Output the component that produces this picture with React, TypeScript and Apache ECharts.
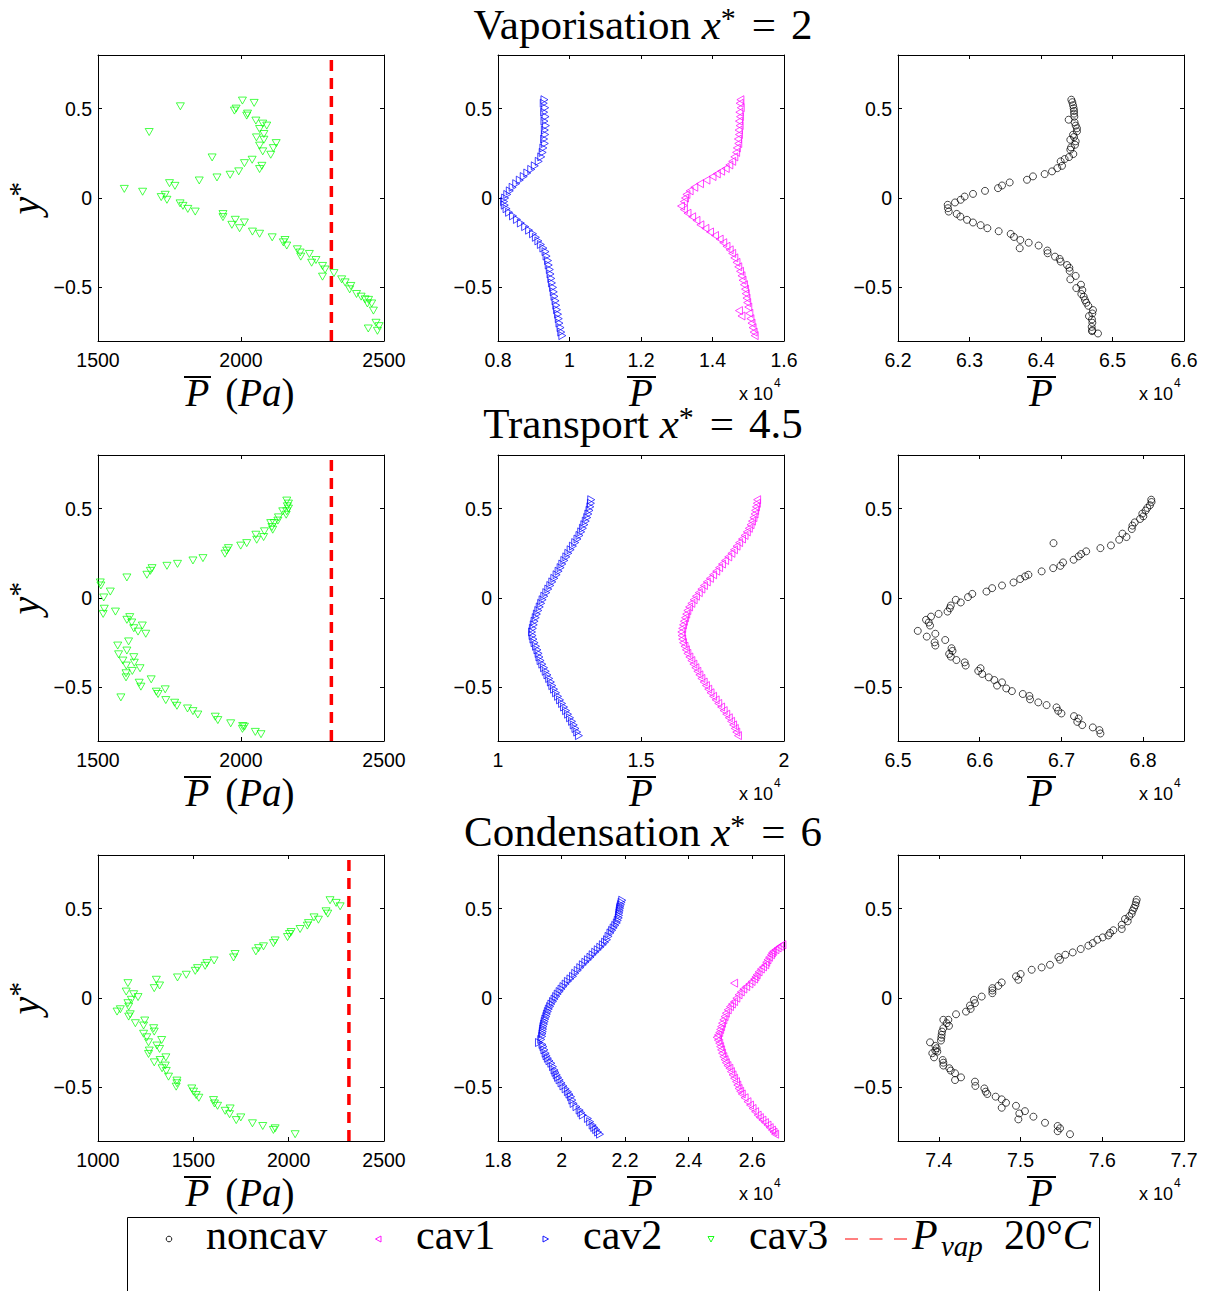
import React, { useEffect, useRef } from "react";
import * as echarts from "echarts";

// ---------------- DATA ----------------
// Column 1: cav3 mean pressure in Pa, y*
const cav3Vap: number[][] = [
  [1788, 0.513], [1679, 0.369], [2005, 0.545], [2046, 0.532], [1977, 0.489], [1983, 0.5], [2020, 0.461], [2023, 0.472],
  [2052, 0.433], [2076, 0.416], [2090, 0.405], [2065, 0.386], [2080, 0.358], [2054, 0.339], [2080, 0.326], [2123, 0.307],
  [2113, 0.279], [2065, 0.293], [2076, 0.261], [2104, 0.242], [2039, 0.214], [2012, 0.195], [2073, 0.18], [2065, 0.162],
  [1899, 0.227], [1992, 0.149], [1962, 0.13], [1916, 0.115], [1854, 0.098], [1750, 0.083], [1769, 0.068],
  [1592, 0.051], [1656, 0.035], [1721, 0.005], [1735, 0.018], [1741, -0.01], [1787, -0.03], [1797, -0.044], [1814, -0.061],
  [1840, -0.076], [1937, -0.09], [1937, -0.107], [1980, -0.122], [1968, -0.15], [2012, -0.137], [1995, -0.169], [2040, -0.188],
  [2065, -0.2], [2109, -0.22], [2154, -0.235], [2148, -0.248], [2160, -0.266], [2197, -0.287], [2207, -0.305], [2209, -0.328],
  [2239, -0.313], [2247, -0.362], [2262, -0.347], [2285, -0.38], [2294, -0.4], [2285, -0.44], [2325, -0.42], [2352, -0.455],
  [2364, -0.472], [2384, -0.492], [2380, -0.511], [2404, -0.537], [2420, -0.552], [2434, -0.567], [2442, -0.59], [2446, -0.57],
  [2457, -0.59], [2463, -0.63], [2445, -0.73], [2472, -0.698], [2483, -0.717], [2477, -0.743],
];
const cav3Trans: number[][] = [
  [2160, 0.545], [2166, 0.528], [2162, 0.513], [2166, 0.5], [2160, 0.485], [2158, 0.466], [2146, 0.485], [2131, 0.451],
  [2129, 0.433], [2116, 0.419], [2104, 0.419], [2108, 0.397], [2111, 0.382], [2082, 0.373], [2079, 0.341], [2055, 0.326],
  [2052, 0.354], [2020, 0.307], [1999, 0.293], [1956, 0.279], [1950, 0.265], [1944, 0.248], [1867, 0.223], [1832, 0.21],
  [1778, 0.191], [1741, 0.18], [1689, 0.167], [1683, 0.152], [1671, 0.13], [1601, 0.115], [1508, 0.087], [1510, 0.07],
  [1543, 0.036], [1520, 0.003], [1522, -0.06], [1518, -0.089], [1561, -0.076], [1601, -0.122], [1611, -0.107], [1618, -0.137],
  [1625, -0.169], [1655, -0.154], [1667, -0.2], [1640, -0.188], [1569, -0.266], [1572, -0.315], [1607, -0.243], [1601, -0.294],
  [1587, -0.35], [1599, -0.378], [1625, -0.331], [1627, -0.362], [1620, -0.408], [1598, -0.421], [1598, -0.444], [1647, -0.393],
  [1644, -0.474], [1650, -0.496], [1686, -0.455], [1580, -0.556], [1704, -0.524], [1710, -0.537], [1735, -0.511], [1737, -0.571],
  [1768, -0.586], [1776, -0.603], [1813, -0.618], [1832, -0.633], [1849, -0.652], [1910, -0.664], [1919, -0.683], [1964, -0.701],
  [2006, -0.716], [2005, -0.732], [2012, -0.72], [2050, -0.749], [2070, -0.762],
];
const cav3Cond: number[][] = [
  [2217, 0.547], [2249, 0.532], [2270, 0.513], [2196, 0.485], [2205, 0.472], [2156, 0.438], [2133, 0.451], [2104, 0.419],
  [2098, 0.405], [2060, 0.386], [2013, 0.369], [2004, 0.358], [1994, 0.341], [1929, 0.322], [1920, 0.307], [1868, 0.289],
  [1842, 0.279], [1828, 0.261], [1719, 0.246], [1711, 0.227], [1609, 0.21], [1571, 0.195], [1562, 0.18], [1522, 0.167],
  [1510, 0.152], [1463, 0.13], [1417, 0.115], [1306, 0.102], [1323, 0.07], [1295, 0.055], [1157, 0.083], [1148, 0.036],
  [1187, 0.021], [1210, 0.005], [1175, -0.01], [1157, -0.029], [1161, -0.048], [1117, -0.063], [1100, -0.076], [1169, -0.091],
  [1161, -0.104], [1196, -0.141], [1245, -0.126], [1239, -0.154], [1292, -0.169], [1295, -0.188], [1239, -0.2], [1256, -0.22],
  [1265, -0.248], [1334, -0.235], [1309, -0.266], [1323, -0.285], [1269, -0.294], [1265, -0.313], [1295, -0.36], [1326, -0.347],
  [1356, -0.332], [1353, -0.378], [1336, -0.393], [1358, -0.408], [1370, -0.44], [1414, -0.462], [1414, -0.477], [1410, -0.496],
  [1492, -0.506], [1501, -0.524], [1515, -0.543], [1529, -0.558], [1606, -0.571], [1611, -0.59], [1627, -0.603], [1667, -0.631],
  [1693, -0.618], [1690, -0.65], [1725, -0.683], [1749, -0.668], [1810, -0.701], [1864, -0.716], [1920, -0.738], [1929, -0.729],
  [2034, -0.762],
];
// Vapour pressure at 20 degC (Pa), as drawn
const pVap = 2316;

// Columns 2 and 3: pressure in units of 10^4 Pa, y*
const cav2Vap: number[][] = [
  [0.93, 0.55], [0.928, 0.53], [0.932, 0.505], [0.929, 0.48], [0.933, 0.455], [0.93, 0.43], [0.934, 0.405], [0.931, 0.38],
  [0.932, 0.355], [0.929, 0.33], [0.931, 0.305], [0.927, 0.28], [0.925, 0.255], [0.921, 0.23], [0.914, 0.205], [0.903, 0.18],
  [0.893, 0.16], [0.882, 0.14], [0.872, 0.12], [0.861, 0.1], [0.851, 0.08], [0.841, 0.06], [0.833, 0.04], [0.826, 0.02],
  [0.82, 0.0], [0.817, -0.02], [0.819, -0.04], [0.824, -0.06], [0.831, -0.08], [0.842, -0.1], [0.853, -0.12], [0.864, -0.14],
  [0.876, -0.16], [0.887, -0.18], [0.898, -0.2], [0.906, -0.22], [0.913, -0.24], [0.92, -0.26], [0.927, -0.28], [0.933, -0.3],
  [0.936, -0.325], [0.94, -0.35], [0.942, -0.375], [0.945, -0.4], [0.947, -0.425], [0.949, -0.45], [0.951, -0.475], [0.954, -0.5],
  [0.956, -0.525], [0.958, -0.55], [0.961, -0.575], [0.963, -0.6], [0.965, -0.625], [0.968, -0.65], [0.97, -0.675], [0.972, -0.7],
  [0.975, -0.725], [0.977, -0.75], [0.98, -0.77],
];
const cav1Vap: number[][] = [
  [1.478, 0.55], [1.476, 0.53], [1.479, 0.505], [1.475, 0.48], [1.477, 0.455], [1.474, 0.43], [1.476, 0.405], [1.473, 0.38],
  [1.474, 0.355], [1.471, 0.33], [1.472, 0.305], [1.468, 0.28], [1.466, 0.255], [1.461, 0.23], [1.455, 0.205], [1.447, 0.185],
  [1.437, 0.165], [1.424, 0.15], [1.412, 0.135], [1.4, 0.12], [1.383, 0.1], [1.365, 0.08], [1.349, 0.06], [1.336, 0.04],
  [1.327, 0.02], [1.323, 0.0], [1.32, -0.02], [1.312, -0.045], [1.32, -0.065], [1.33, -0.085], [1.343, -0.105], [1.355, -0.125],
  [1.366, -0.15], [1.38, -0.17], [1.393, -0.19], [1.407, -0.21], [1.42, -0.23], [1.43, -0.25], [1.439, -0.27], [1.448, -0.29],
  [1.455, -0.31], [1.461, -0.335], [1.467, -0.36], [1.472, -0.385], [1.477, -0.41], [1.481, -0.435], [1.484, -0.46], [1.488, -0.485],
  [1.491, -0.51], [1.493, -0.535], [1.495, -0.56], [1.497, -0.585], [1.5, -0.61], [1.474, -0.63], [1.481, -0.66], [1.503, -0.645],
  [1.506, -0.675], [1.509, -0.7], [1.512, -0.725], [1.515, -0.75], [1.518, -0.77],
];
const noncavVap: number[][] = [
  [6.4424, 0.55], [6.4438, 0.536], [6.4448, 0.519], [6.4457, 0.502], [6.4462, 0.487], [6.4462, 0.472], [6.4387, 0.438],
  [6.4466, 0.455], [6.447, 0.423], [6.4485, 0.405], [6.4503, 0.39], [6.4503, 0.373], [6.4448, 0.354], [6.4462, 0.341],
  [6.441, 0.326], [6.4485, 0.317], [6.4476, 0.298], [6.442, 0.283], [6.441, 0.27], [6.4452, 0.246], [6.4392, 0.229],
  [6.4331, 0.218], [6.4275, 0.205], [6.4294, 0.18], [6.4228, 0.167], [6.4154, 0.149], [6.4051, 0.134], [6.3888, 0.121],
  [6.3804, 0.102], [6.3562, 0.087], [6.3455, 0.07], [6.3399, 0.055], [6.3217, 0.04], [6.3049, 0.023], [6.2932, 0.008],
  [6.2876, -0.01], [6.2797, -0.025], [6.2695, -0.038], [6.2699, -0.057], [6.2709, -0.076], [6.2821, -0.089], [6.2872, -0.104],
  [6.2965, -0.122], [6.3049, -0.137], [6.3156, -0.152], [6.325, -0.169], [6.3408, -0.186], [6.3576, -0.201], [6.3622, -0.218],
  [6.3711, -0.235], [6.3828, -0.25], [6.3702, -0.281], [6.3967, -0.266], [6.4089, -0.294], [6.4093, -0.309], [6.4196, -0.328],
  [6.4261, -0.341], [6.4275, -0.356], [6.4364, -0.375], [6.4396, -0.39], [6.4401, -0.408], [6.4485, -0.436], [6.441, -0.455],
  [6.4559, -0.485], [6.4494, -0.504], [6.4578, -0.515], [6.4564, -0.537], [6.4597, -0.552], [6.4615, -0.571], [6.4634, -0.586],
  [6.4662, -0.603], [6.4727, -0.627], [6.4718, -0.646], [6.4671, -0.661], [6.4713, -0.679], [6.4718, -0.698], [6.4709, -0.721],
  [6.4718, -0.74], [6.4797, -0.758], [6.4713, -0.745],
];
const cav2Trans: number[][] = [
  [1.326, 0.55], [1.325, 0.53], [1.323, 0.51], [1.32, 0.49], [1.316, 0.47], [1.312, 0.45], [1.307, 0.43], [1.302, 0.41],
  [1.297, 0.39], [1.291, 0.37], [1.285, 0.35], [1.278, 0.33], [1.27, 0.31], [1.262, 0.29], [1.254, 0.27], [1.246, 0.25],
  [1.239, 0.23], [1.232, 0.21], [1.225, 0.19], [1.219, 0.17], [1.212, 0.15], [1.205, 0.13], [1.197, 0.11], [1.19, 0.09],
  [1.183, 0.07], [1.176, 0.05], [1.169, 0.03], [1.162, 0.01], [1.156, -0.01], [1.151, -0.03], [1.146, -0.05], [1.141, -0.07],
  [1.136, -0.09], [1.132, -0.11], [1.128, -0.13], [1.125, -0.15], [1.122, -0.17], [1.119, -0.19], [1.121, -0.21], [1.124, -0.23],
  [1.128, -0.25], [1.133, -0.27], [1.138, -0.29], [1.142, -0.31], [1.145, -0.33], [1.149, -0.35], [1.155, -0.37], [1.161, -0.39],
  [1.167, -0.41], [1.173, -0.43], [1.179, -0.45], [1.185, -0.47], [1.19, -0.49], [1.196, -0.51], [1.203, -0.53], [1.21, -0.55],
  [1.217, -0.57], [1.224, -0.59], [1.231, -0.61], [1.238, -0.63], [1.245, -0.65], [1.252, -0.67], [1.259, -0.69], [1.265, -0.71],
  [1.271, -0.73], [1.277, -0.75], [1.283, -0.77],
];
const cav1Trans: number[][] = [
  [1.906, 0.55], [1.905, 0.53], [1.902, 0.51], [1.899, 0.49], [1.897, 0.47], [1.893, 0.45], [1.888, 0.43], [1.883, 0.41],
  [1.877, 0.39], [1.87, 0.37], [1.862, 0.35], [1.853, 0.33], [1.843, 0.31], [1.834, 0.29], [1.825, 0.27], [1.816, 0.25],
  [1.805, 0.23], [1.794, 0.21], [1.783, 0.19], [1.773, 0.17], [1.763, 0.15], [1.752, 0.13], [1.741, 0.11], [1.73, 0.09],
  [1.72, 0.07], [1.711, 0.05], [1.702, 0.03], [1.692, 0.01], [1.684, -0.01], [1.676, -0.03], [1.668, -0.05], [1.662, -0.07],
  [1.658, -0.09], [1.654, -0.11], [1.65, -0.13], [1.647, -0.15], [1.644, -0.17], [1.641, -0.19], [1.642, -0.21], [1.644, -0.23],
  [1.647, -0.25], [1.652, -0.27], [1.657, -0.29], [1.662, -0.31], [1.669, -0.33], [1.676, -0.35], [1.683, -0.37], [1.69, -0.39],
  [1.697, -0.41], [1.704, -0.43], [1.711, -0.45], [1.719, -0.47], [1.727, -0.49], [1.735, -0.51], [1.743, -0.53], [1.752, -0.55],
  [1.761, -0.57], [1.77, -0.59], [1.78, -0.61], [1.789, -0.63], [1.798, -0.65], [1.807, -0.67], [1.815, -0.69], [1.822, -0.71],
  [1.828, -0.73], [1.833, -0.75], [1.839, -0.77],
];
const noncavTrans: number[][] = [
  [6.8099, 0.55], [6.8103, 0.537], [6.8083, 0.519], [6.8051, 0.504], [6.803, 0.489], [6.799, 0.472], [6.8002, 0.457],
  [6.7962, 0.442], [6.7897, 0.423], [6.7869, 0.405], [6.7861, 0.386], [6.7747, 0.36], [6.7796, 0.341], [6.7707, 0.326],
  [6.7606, 0.294], [6.7477, 0.279], [6.6903, 0.307], [6.7303, 0.261], [6.7242, 0.246], [6.721, 0.233], [6.7149, 0.214],
  [6.702, 0.199], [6.6988, 0.18], [6.6899, 0.167], [6.6758, 0.149], [6.6596, 0.13], [6.6556, 0.121], [6.6495, 0.106],
  [6.6414, 0.087], [6.6273, 0.07], [6.6152, 0.055], [6.6083, 0.036], [6.5909, 0.023], [6.5857, 0.005], [6.5707, -0.01],
  [6.5768, -0.025], [6.5646, -0.042], [6.5634, -0.057], [6.5606, -0.076], [6.5497, -0.089], [6.5404, -0.104], [6.5343, -0.122],
  [6.5376, -0.137], [6.5392, -0.154], [6.5242, -0.184], [6.5457, -0.2], [6.5352, -0.216], [6.5578, -0.235], [6.5448, -0.248],
  [6.5457, -0.266], [6.5655, -0.281], [6.5667, -0.296], [6.5626, -0.313], [6.5646, -0.328], [6.5715, -0.347], [6.5816, -0.36],
  [6.5828, -0.378], [6.601, -0.393], [6.5982, -0.408], [6.603, -0.425], [6.6111, -0.444], [6.6179, -0.459], [6.6273, -0.472],
  [6.6212, -0.49], [6.6325, -0.506], [6.6394, -0.521], [6.6527, -0.537], [6.6608, -0.548], [6.6616, -0.567], [6.6717, -0.584],
  [6.6818, -0.599], [6.694, -0.612], [6.696, -0.631], [6.7, -0.646], [6.7154, -0.661], [6.721, -0.674], [6.7194, -0.693],
  [6.7255, -0.711], [6.7384, -0.724], [6.7465, -0.739], [6.7477, -0.758],
];
const cav2Cond: number[][] = [
  [2.191, 0.547], [2.189, 0.535], [2.187, 0.522], [2.185, 0.51], [2.184, 0.5], [2.183, 0.488], [2.182, 0.476], [2.181, 0.462],
  [2.18, 0.448], [2.177, 0.434], [2.174, 0.42], [2.169, 0.406], [2.164, 0.392], [2.159, 0.378], [2.154, 0.364], [2.148, 0.345],
  [2.143, 0.326], [2.137, 0.312], [2.13, 0.298], [2.122, 0.284], [2.114, 0.27], [2.106, 0.256], [2.098, 0.242], [2.091, 0.228],
  [2.083, 0.214], [2.075, 0.2], [2.067, 0.186], [2.059, 0.17], [2.051, 0.154], [2.043, 0.138], [2.036, 0.121], [2.028, 0.107],
  [2.02, 0.093], [2.013, 0.078], [2.006, 0.064], [2.0, 0.05], [1.994, 0.036], [1.988, 0.022], [1.983, 0.008], [1.978, -0.006],
  [1.973, -0.02], [1.968, -0.034], [1.964, -0.048], [1.96, -0.062], [1.957, -0.076], [1.954, -0.09], [1.952, -0.104],
  [1.949, -0.118], [1.947, -0.132], [1.945, -0.146], [1.943, -0.16], [1.942, -0.174], [1.941, -0.188], [1.94, -0.2],
  [1.939, -0.215], [1.936, -0.232], [1.929, -0.249], [1.94, -0.26], [1.943, -0.272], [1.946, -0.29], [1.95, -0.309],
  [1.953, -0.323], [1.957, -0.337], [1.962, -0.351], [1.968, -0.365], [1.973, -0.384], [1.978, -0.403], [1.981, -0.416],
  [1.985, -0.43], [1.989, -0.444], [1.994, -0.458], [2.0, -0.475], [2.006, -0.492], [2.013, -0.508], [2.02, -0.524],
  [2.025, -0.538], [2.03, -0.552], [2.034, -0.571], [2.038, -0.59], [2.047, -0.608], [2.057, -0.627], [2.062, -0.641],
  [2.067, -0.655], [2.083, -0.674], [2.09, -0.692], [2.098, -0.711], [2.103, -0.724], [2.109, -0.736], [2.115, -0.75],
  [2.121, -0.762],
];
const cav1Cond: number[][] = [
  [2.695, 0.298], [2.687, 0.289], [2.68, 0.28], [2.673, 0.27], [2.666, 0.261], [2.662, 0.252], [2.659, 0.242], [2.653, 0.228],
  [2.648, 0.214], [2.644, 0.2], [2.641, 0.186], [2.634, 0.174], [2.627, 0.162], [2.62, 0.146], [2.614, 0.13], [2.61, 0.118],
  [2.606, 0.106], [2.598, 0.092], [2.591, 0.079], [2.543, 0.083], [2.581, 0.064], [2.572, 0.05], [2.564, 0.034], [2.557, 0.018],
  [2.55, -0.001], [2.543, -0.02], [2.536, -0.034], [2.53, -0.048], [2.523, -0.066], [2.517, -0.085], [2.513, -0.104],
  [2.509, -0.122], [2.505, -0.141], [2.502, -0.16], [2.499, -0.176], [2.496, -0.193], [2.492, -0.207], [2.488, -0.22],
  [2.492, -0.236], [2.496, -0.253], [2.499, -0.272], [2.502, -0.29], [2.505, -0.309], [2.509, -0.328], [2.513, -0.345],
  [2.517, -0.362], [2.522, -0.378], [2.528, -0.393], [2.533, -0.412], [2.538, -0.43], [2.543, -0.449], [2.549, -0.468],
  [2.553, -0.487], [2.557, -0.506], [2.562, -0.522], [2.567, -0.537], [2.576, -0.558], [2.585, -0.58], [2.593, -0.599],
  [2.601, -0.618], [2.609, -0.636], [2.617, -0.655], [2.624, -0.669], [2.632, -0.683], [2.64, -0.697], [2.648, -0.711],
  [2.655, -0.725], [2.662, -0.739], [2.667, -0.75], [2.672, -0.762],
];
const noncavCond: number[][] = [
  [7.6421, 0.55], [7.6413, 0.536], [7.6405, 0.519], [7.6389, 0.504], [7.6372, 0.489], [7.636, 0.472], [7.6331, 0.457],
  [7.6278, 0.442], [7.6311, 0.429], [7.6238, 0.41], [7.6238, 0.386], [7.6136, 0.379], [7.6095, 0.364], [7.6074, 0.35],
  [7.6005, 0.339], [7.594, 0.326], [7.5883, 0.307], [7.583, 0.293], [7.5736, 0.274], [7.5638, 0.255], [7.5548, 0.242],
  [7.5483, 0.214], [7.5463, 0.229], [7.536, 0.186], [7.5258, 0.171], [7.5136, 0.158], [7.5001, 0.134], [7.4944, 0.121],
  [7.4973, 0.102], [7.4769, 0.087], [7.4728, 0.068], [7.4655, 0.055], [7.4655, 0.042], [7.4655, 0.027], [7.4524, 0.008],
  [7.443, -0.01], [7.4442, -0.029], [7.4381, -0.042], [7.4389, -0.061], [7.4332, -0.076], [7.421, -0.091], [7.4116, -0.122],
  [7.4055, -0.122], [7.4096, -0.141], [7.4124, -0.156], [7.4055, -0.169], [7.4039, -0.188], [7.4034, -0.206], [7.403, -0.222],
  [7.4026, -0.238], [7.3892, -0.248], [7.3957, -0.268], [7.3973, -0.281], [7.3957, -0.294], [7.392, -0.309], [7.3981, -0.3],
  [7.3941, -0.332], [7.4047, -0.347], [7.4055, -0.362], [7.4055, -0.378], [7.4128, -0.393], [7.4145, -0.406], [7.4198, -0.421],
  [7.4271, -0.444], [7.4198, -0.459], [7.4442, -0.468], [7.4447, -0.492], [7.4557, -0.506], [7.4573, -0.524], [7.4593, -0.537],
  [7.4695, -0.552], [7.4769, -0.567], [7.4822, -0.586], [7.4769, -0.614], [7.4944, -0.603], [7.5054, -0.633], [7.4985, -0.646],
  [7.4973, -0.679], [7.5157, -0.664], [7.5299, -0.698], [7.5454, -0.716], [7.5483, -0.729], [7.5454, -0.745], [7.5605, -0.762],
];

// Axis ranges and tick values
const yRange = [-0.8, 0.8];
const yTicks = [-0.5, 0, 0.5];
const rowTitles = ["Vaporisation ", "Transport ", "Condensation "];
const rowTitleValues = ["2", "4.5", "6"];
const xRanges = [
  [[1500, 2500], [0.8, 1.6], [6.2, 6.6]],
  [[1500, 2500], [1, 2], [6.5, 6.85]],
  [[1000, 2500], [1.8, 2.7], [7.35, 7.7]],
];
const xTicks = [
  [[1500, 2000, 2500], [0.8, 1, 1.2, 1.4, 1.6], [6.2, 6.3, 6.4, 6.5, 6.6]],
  [[1500, 2000, 2500], [1, 1.5, 2], [6.5, 6.6, 6.7, 6.8]],
  [[1000, 1500, 2000, 2500], [1.8, 2, 2.2, 2.4, 2.6], [7.4, 7.5, 7.6, 7.7]],
];
const legendNames = ["noncav", "cav1", "cav2", "cav3"];

// ---------------- LAYOUT / STYLE ----------------
const COL_LEFT = [98, 498, 898];
const ROW_TOP = [55, 455, 855];
const BOX = 286;
const SERIF = "'Liberation Serif', 'Times New Roman', serif";
const SANS = "'Liberation Sans', Arial, Helvetica, sans-serif";
const GREEN = "#00ff00";
const BLUE = "#0000ff";
const MAGENTA = "#ff00ff";
const RED = "#ff0000";

const fmt = (v: number) => {
  const s = String(parseFloat(Number(v).toFixed(3)));
  return v < 0 ? "\u2212" + s.replace("-", "") : s;
};

function scatter(g: number, data: number[][], kind: string) {
  const base: any = {
    type: "scatter",
    xAxisIndex: 2 * g,
    yAxisIndex: 2 * g,
    data,
    silent: true,
    z: 3,
  };
  if (kind === "noncav") {
    return { ...base, name: "noncav", symbol: "circle", symbolSize: 7,
      itemStyle: { color: "rgba(0,0,0,0)", borderColor: "#000", borderWidth: 0.9 } };
  }
  const color = kind === "cav1" ? MAGENTA : kind === "cav2" ? BLUE : GREEN;
  const rot = kind === "cav1" ? 90 : kind === "cav2" ? -90 : 180;
  return { ...base, name: kind, symbol: "triangle", symbolSize: [8, 7], symbolRotate: rot,
    itemStyle: { color: "rgba(0,0,0,0)", borderColor: color, borderWidth: 0.9 } };
}

function buildOption() {
  const grid: any[] = [];
  const xAxis: any[] = [];
  const yAxis: any[] = [];
  const series: any[] = [];
  const graphic: any[] = [];
  const rowData = [
    [cav3Vap, [cav1Vap, cav2Vap], noncavVap],
    [cav3Trans, [cav1Trans, cav2Trans], noncavTrans],
    [cav3Cond, [cav1Cond, cav2Cond], noncavCond],
  ];
  const axisLine = { show: true, onZero: false, lineStyle: { color: "#000", width: 1 } };
  for (let r = 0; r < 3; r++) {
    for (let c = 0; c < 3; c++) {
      const g = r * 3 + c;
      grid.push({ left: COL_LEFT[c], top: ROW_TOP[r], width: BOX, height: BOX, containLabel: false });
      const [mn, mx] = xRanges[r][c];
      const ticks = xTicks[r][c];
      const tick = { show: true, inside: true, length: 4, customValues: ticks, lineStyle: { color: "#000", width: 1 } };
      xAxis.push({
        type: "value", gridIndex: g, position: "bottom", min: mn, max: mx,
        axisLine, axisTick: tick, splitLine: { show: false },
        axisLabel: { show: true, customValues: ticks, formatter: (v: number) => fmt(v), color: "#000",
          fontFamily: SANS, fontSize: 19.5, margin: 9 },
      });
      xAxis.push({
        type: "value", gridIndex: g, position: "top", min: mn, max: mx,
        axisLine, axisTick: tick, splitLine: { show: false }, axisLabel: { show: false },
      });
      const ytick = { show: true, inside: true, length: 4, customValues: yTicks, lineStyle: { color: "#000", width: 1 } };
      yAxis.push({
        type: "value", gridIndex: g, position: "left", min: yRange[0], max: yRange[1],
        axisLine, axisTick: ytick, splitLine: { show: false },
        axisLabel: { show: true, customValues: yTicks, formatter: (v: number) => fmt(v), color: "#000",
          fontFamily: SANS, fontSize: 19.5, margin: 6 },
      });
      yAxis.push({
        type: "value", gridIndex: g, position: "right", min: yRange[0], max: yRange[1],
        axisLine, axisTick: ytick, splitLine: { show: false }, axisLabel: { show: false },
      });
      const d: any = rowData[r][c];
      if (c === 0) {
        series.push(scatter(g, d, "cav3"));
        series.push({
          type: "line", name: "Pvap", xAxisIndex: 2 * g, yAxisIndex: 2 * g,
          data: [[pVap, yRange[0]], [pVap, yRange[1]]], symbol: "none", silent: true, z: 4,
          lineStyle: { color: RED, width: 3.5, type: [11, 7] },
        });
      } else if (c === 1) {
        series.push(scatter(g, d[0], "cav1"));
        series.push(scatter(g, d[1], "cav2"));
      } else {
        series.push(scatter(g, d, "noncav"));
      }

      // axis titles
      const cx = COL_LEFT[c] + BOX / 2;
      const bottom = ROW_TOP[r] + BOX;
      const base = bottom + 65; // baseline of x label
      if (c === 0) {
        graphic.push({
          type: "text", x: cx - 1, y: base - 14, silent: true,
          style: {
            text: "{i|P}{p|(}{i|Pa}{r|)}", align: "center", textAlign: "center",
            verticalAlign: "middle", textVerticalAlign: "middle",
            rich: {
              i: { fontFamily: SERIF, fontStyle: "italic", fontSize: 39, lineHeight: 40, fill: "#000" },
              r: { fontFamily: SERIF, fontSize: 39, lineHeight: 40, fill: "#000" },
              p: { fontFamily: SERIF, fontSize: 39, lineHeight: 40, fill: "#000", padding: [0, 0, 0, 16] },
            },
          },
        });
        graphic.push({ type: "line", silent: true, shape: { x1: 184, y1: bottom + 36, x2: 211, y2: bottom + 36 },
          style: { stroke: "#000", lineWidth: 2 } });
        // y label
        graphic.push({
          type: "text", x: 25, y: ROW_TOP[r] + BOX / 2, rotation: Math.PI / 2, silent: true,
          style: {
            text: "{i|y}{s|*}", x: 0, y: 0, align: "center", textAlign: "center",
            verticalAlign: "middle", textVerticalAlign: "middle",
            rich: {
              i: { fontFamily: SERIF, fontStyle: "italic", fontSize: 40, lineHeight: 44, fill: "#000" },
              s: { fontFamily: SERIF, fontSize: 30, lineHeight: 40, verticalAlign: "top", fill: "#000" },
            },
          },
        });
      } else {
        graphic.push({
          type: "text", x: cx, y: base - 14, silent: true,
          style: { text: "P", align: "center", textAlign: "center", verticalAlign: "middle",
            textVerticalAlign: "middle", fontFamily: SERIF, fontStyle: "italic", fontSize: 39, lineHeight: 40,
            fill: "#000" },
        });
        graphic.push({ type: "line", silent: true,
          shape: { x1: cx - 14, y1: bottom + 36, x2: cx + 15, y2: bottom + 36 },
          style: { stroke: "#000", lineWidth: 2 } });
        const right = COL_LEFT[c] + BOX;
        graphic.push({
          type: "text", x: right - 45, y: bottom + 53, silent: true,
          style: {
            text: "{a|x 10}{b|4}", align: "left", textAlign: "left", verticalAlign: "middle",
            textVerticalAlign: "middle",
            rich: {
              a: { fontFamily: SANS, fontSize: 18, lineHeight: 34, verticalAlign: "middle", fill: "#000" },
              b: { fontFamily: SANS, fontSize: 12, lineHeight: 12, verticalAlign: "top", fill: "#000",
                padding: [0, 0, 0, 1] },
            },
          },
        });
      }
    }
    // row title
    const titleY = [24, 423, 831][r];
    graphic.push({
      type: "text", x: 643, y: titleY, silent: true,
      style: {
        text: `{r|${rowTitles[r]}}{i|x}{s|*}{e|=}{r|${rowTitleValues[r]}}`, align: "center", textAlign: "center",
        verticalAlign: "middle", textVerticalAlign: "middle",
        rich: {
          r: { fontFamily: SERIF, fontSize: 43, lineHeight: 43, fill: "#000" },
          i: { fontFamily: SERIF, fontStyle: "italic", fontSize: 43, lineHeight: 43, fill: "#000" },
          s: { fontFamily: SERIF, fontSize: 30, lineHeight: 31, verticalAlign: "top", fill: "#000" },
          e: { fontFamily: SERIF, fontSize: 43, lineHeight: 43, fill: "#000", padding: [0, 15, 0, 16] },
        },
      },
    });
  }

  // legend box
  const LY = 1239;
  graphic.push({ type: "rect", silent: true, shape: { x: 127.5, y: 1217.5, width: 972, height: 120 },
    style: { fill: "#fff", stroke: "#000", lineWidth: 1 }, z: 10 });
  graphic.push({ type: "circle", silent: true, shape: { cx: 169, cy: LY, r: 2.8 },
    style: { fill: "none", stroke: "#000", lineWidth: 0.9 }, z: 11 });
  graphic.push({ type: "polygon", silent: true, shape: { points: [[381, LY - 3], [381, LY + 3], [375.5, LY]] },
    style: { fill: "none", stroke: MAGENTA, lineWidth: 0.9 }, z: 11 });
  graphic.push({ type: "polygon", silent: true, shape: { points: [[543, LY - 3], [543, LY + 3], [548.5, LY]] },
    style: { fill: "none", stroke: BLUE, lineWidth: 0.9 }, z: 11 });
  graphic.push({ type: "polygon", silent: true, shape: { points: [[708, LY - 2.5], [714, LY - 2.5], [711, LY + 3]] },
    style: { fill: "none", stroke: GREEN, lineWidth: 0.9 }, z: 11 });
  graphic.push({ type: "line", silent: true, shape: { x1: 845, y1: LY, x2: 908, y2: LY },
    style: { stroke: RED, lineWidth: 1, lineDash: [13, 11.5] }, z: 11 });
  const legX = [206, 416, 583, 749];
  legendNames.forEach((n, i) => {
    graphic.push({
      type: "text", x: legX[i], y: 1235, silent: true, z: 11,
      style: { text: n, align: "left", textAlign: "left", verticalAlign: "middle", textVerticalAlign: "middle",
        fontFamily: SERIF, fontSize: 42, lineHeight: 42, fill: "#000" },
    });
  });
  graphic.push({
    type: "text", x: 912, y: 1235, silent: true, z: 11,
    style: { text: "P", align: "left", textAlign: "left", verticalAlign: "middle", textVerticalAlign: "middle",
      fontFamily: SERIF, fontStyle: "italic", fontSize: 42, lineHeight: 42, fill: "#000" },
  });
  graphic.push({
    type: "text", x: 941, y: 1246, silent: true, z: 11,
    style: { text: "vap", align: "left", textAlign: "left", verticalAlign: "middle", textVerticalAlign: "middle",
      fontFamily: SERIF, fontStyle: "italic", fontSize: 29, lineHeight: 29, fill: "#000" },
  });
  graphic.push({
    type: "text", x: 1004, y: 1235, silent: true, z: 11,
    style: {
      text: "{r|20\u00B0}{i|C}", align: "left", textAlign: "left", verticalAlign: "middle", textVerticalAlign: "middle",
      rich: {
        r: { fontFamily: SERIF, fontSize: 42, lineHeight: 42, fill: "#000" },
        i: { fontFamily: SERIF, fontStyle: "italic", fontSize: 42, lineHeight: 42, fill: "#000" },
      },
    },
  });

  return {
    animation: false,
    backgroundColor: "#fff",
    grid,
    xAxis,
    yAxis,
    series,
    graphic: { elements: graphic },
  };
}

export default function App() {
  const ref = useRef<HTMLDivElement>(null);
  useEffect(() => {
    if (!ref.current) return;
    const chart = echarts.init(ref.current, null, { renderer: "svg" });
    chart.setOption(buildOption() as any);
    return () => chart.dispose();
  }, []);
  return (
    <div
      ref={ref}
      style={{ position: "fixed", left: 0, top: 0, width: 1206, height: 1291, background: "#fff" }}
    />
  );
}
